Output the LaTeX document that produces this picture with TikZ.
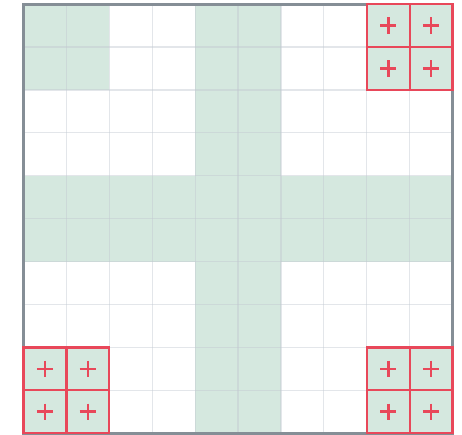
\documentclass[tikz,border=0pt]{standalone}
\usepackage{xcolor}
\definecolor{cellgreen}{HTML}{D5E8DF}
\definecolor{gridgray}{HTML}{C2C8D1}
\definecolor{bordergray}{HTML}{858E96}
\definecolor{markred}{HTML}{E8485A}
\tikzset{
  gridline/.style={draw=gridgray, line width=1.2pt, opacity=0.45},
  frameline/.style={draw=bordergray, line width=2.8pt},
  redcell/.style={draw=markred, line width=2.2pt, fill=cellgreen},
  plusmark/.style={draw=markred, line width=2.7pt}
}
\begin{document}
\begin{tikzpicture}[x=1pt,y=-1pt]
\useasboundingbox (0,0) rectangle (462,435);
\begin{scope}[shift={(23.5,4.2)}, x=42.9pt, y=-42.9pt]
  % green areas
  \fill[cellgreen] (0,0) rectangle (2,2);
  \fill[cellgreen] (4,0) rectangle (6,10);
  \fill[cellgreen] (0,4) rectangle (10,6);
  % grid
  \foreach \k in {1,...,9}{
    \draw[gridline] (\k,0) -- (\k,10);
    \draw[gridline] (0,\k) -- (10,\k);
  }
  % frame
  \draw[frameline] (0,0) rectangle (10,10);
  % red marked corner cells
  \foreach \cx/\cy in {8/0,9/0,8/1,9/1, 0/8,1/8,0/9,1/9, 8/8,9/8,8/9,9/9}{
    \draw[redcell] (\cx,\cy) rectangle ++(1,1);
    \draw[plusmark] (\cx+0.31,\cy+0.5) -- (\cx+0.69,\cy+0.5);
    \draw[plusmark] (\cx+0.5,\cy+0.31) -- (\cx+0.5,\cy+0.69);
  }
\end{scope}
\end{tikzpicture}
\end{document}
